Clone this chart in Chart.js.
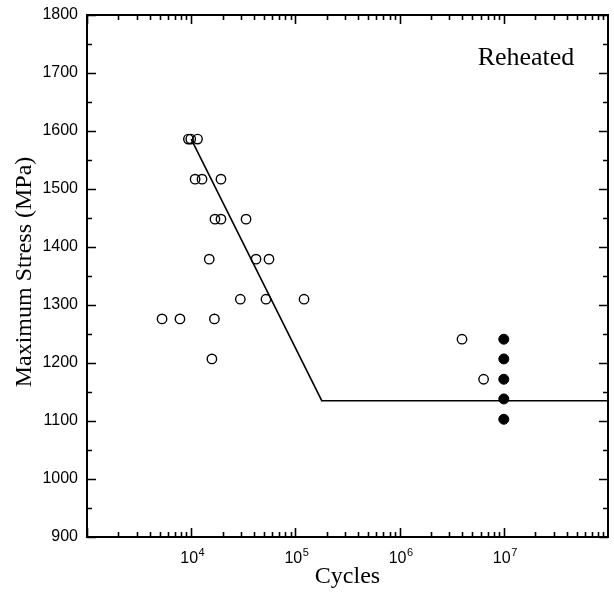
<!DOCTYPE html>
<html lang="en">
<head>
  <meta charset="UTF-8">
  <title>Maximum Stress vs Cycles - Reheated</title>
  <script src="https://cdn.jsdelivr.net/npm/chart.js"></script>
  <style>
    body { margin: 0; background: #fff; }
    canvas { display: block; }
  </style>
</head>
<body>
<canvas id="snChart" width="614" height="594"></canvas>

<script>
  // open circles: failures
  const openCycles = [9400, 9900, 11500, 10900, 12700, 19300, 16900, 19300, 33600,
                      14900, 41900, 55800, 29600, 52200, 121000, 5250, 7800, 16700, 15800,
                      3970000, 6400000];
  const openStress = [1586, 1586, 1586, 1517, 1517, 1517, 1448, 1448, 1448,
                      1379, 1379, 1379, 1310, 1310, 1310, 1276, 1276, 1276, 1207,
                      1241, 1172];

  // filled circles: run-outs at 10^7
  const runoutCycles = [1e7, 1e7, 1e7, 1e7, 1e7];
  const runoutStress = [1241, 1207, 1172, 1138, 1103];

  // fitted S-N curve
  const fitCycles = [10000, 179000, 1e8];
  const fitStress = [1586, 1135, 1135];

  const xTickValues = [1e4, 1e5, 1e6, 1e7];
  const xTickExponents = ['4', '5', '6', '7'];

  const sans = "'Liberation Sans', Arial, sans-serif";
  const serif = "'Liberation Serif', 'Times New Roman', serif";

  const toPoints = (xs, ys) => xs.map((v, i) => ({ x: v, y: ys[i] }));

  const framePlugin = {
    id: 'framePlugin',
    afterDraw(chart) {
      const { ctx, chartArea: a, scales: { x, y } } = chart;
      ctx.save();
      ctx.strokeStyle = '#000';
      ctx.lineWidth = 1.6;
      ctx.beginPath();
      // y ticks, left and right, pointing in
      for (let v = 900; v <= 1800; v += 50) {
        const py = Math.round(y.getPixelForValue(v)) + 0.5;
        const len = v % 100 === 0 ? 9 : 5;
        ctx.moveTo(a.left, py); ctx.lineTo(a.left + len, py);
        ctx.moveTo(a.right, py); ctx.lineTo(a.right - len, py);
      }
      // x log ticks, bottom and top
      for (let d = 3; d < 8; d++) {
        for (let m = 1; m < 10; m++) {
          const px = Math.round(x.getPixelForValue(m * Math.pow(10, d))) + 0.5;
          const len = m === 1 ? 9 : 5;
          ctx.moveTo(px, a.bottom); ctx.lineTo(px, a.bottom - len);
          ctx.moveTo(px, a.top); ctx.lineTo(px, a.top + len);
        }
      }
      ctx.stroke();
      ctx.lineWidth = 2;
      ctx.strokeRect(a.left, a.top, a.right - a.left, a.bottom - a.top);

      // x tick labels 10^n
      ctx.fillStyle = '#000';
      ctx.textBaseline = 'alphabetic';
      ctx.textAlign = 'left';
      xTickValues.forEach((v, i) => {
        const px = x.getPixelForValue(v);
        ctx.font = '16px ' + sans;
        const w1 = ctx.measureText('10').width;
        ctx.font = '11px ' + sans;
        const w2 = ctx.measureText(xTickExponents[i]).width;
        const start = px - (w1 + w2) / 2 + 1;
        ctx.font = '16px ' + sans;
        ctx.fillText('10', start, 563);
        ctx.font = '11px ' + sans;
        ctx.fillText(xTickExponents[i], start + w1 + 0.5, 556);
      });

      // axis titles
      ctx.font = '24px ' + serif;
      ctx.textAlign = 'center';
      ctx.fillText('Cycles', (a.left + a.right) / 2, 583);
      ctx.save();
      ctx.translate(31, (a.top + a.bottom) / 2 - 4);
      ctx.rotate(-Math.PI / 2);
      ctx.fillText('Maximum Stress (MPa)', 0, 0);
      ctx.restore();

      // panel label
      ctx.font = '26px ' + serif;
      ctx.fillText('Reheated', 526, 65);
      ctx.restore();
    }
  };

  new Chart(document.getElementById('snChart'), {
    type: 'scatter',
    data: {
      datasets: [
        {
          label: 'Fit',
          data: toPoints(fitCycles, fitStress),
          showLine: true,
          borderColor: '#000',
          borderWidth: 1.6,
          pointRadius: 0,
          fill: false
        },
        {
          label: 'Failure',
          data: toPoints(openCycles, openStress),
          pointStyle: 'circle',
          pointRadius: 4.7,
          borderWidth: 1.4,
          borderColor: '#000',
          backgroundColor: 'rgba(255,255,255,0)'
        },
        {
          label: 'Run-out',
          data: toPoints(runoutCycles, runoutStress),
          pointStyle: 'circle',
          pointRadius: 5,
          borderWidth: 1,
          borderColor: '#000',
          backgroundColor: '#000'
        }
      ]
    },
    options: {
      responsive: false,
      animation: false,
      layout: { autoPadding: false, padding: { top: 15, right: 6, left: 0, bottom: 0 } },
      plugins: {
        legend: { display: false },
        tooltip: { enabled: false }
      },
      scales: {
        x: {
          type: 'logarithmic',
          min: 1000,
          max: 1e8,
          grid: { display: false, drawTicks: false },
          border: { display: false },
          ticks: { display: false },
          afterFit(scale) { scale.height = 57; }
        },
        y: {
          min: 900,
          max: 1800,
          grid: { display: false, drawTicks: false },
          border: { display: false },
          ticks: {
            stepSize: 100,
            padding: 9,
            color: '#000',
            font: { family: sans, size: 16 },
            callback: (v) => String(v)
          },
          afterFit(scale) {
            scale.width = 87;
            scale.paddingTop = 0;
            scale.paddingBottom = 0;
          }
        }
      }
    },
    plugins: [framePlugin]
  });
</script>
</body>
</html>
